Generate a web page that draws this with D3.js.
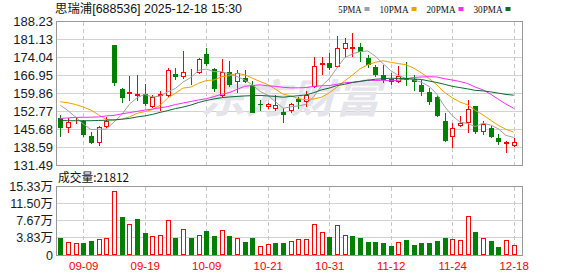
<!DOCTYPE html>
<html lang="zh-CN">
<head>
<meta charset="UTF-8" />
<title>思瑞浦 日K线</title>
<script src="https://d3js.org/d3.v7.min.js"></script>
<style>
  body { margin: 0; background: #fff; }
  svg { display: block; }
</style>
</head>
<body>
<script>
// trading days shown (60 candles)
var dates = ["09-04","09-05","09-08","09-09","09-10","09-11","09-12","09-15","09-16","09-17",
             "09-18","09-19","09-22","09-23","09-24","09-25","09-26","09-29","09-30","10-09",
             "10-10","10-13","10-14","10-15","10-16","10-17","10-20","10-21","10-22","10-23",
             "10-24","10-27","10-28","10-29","10-30","10-31","11-03","11-04","11-05","11-06",
             "11-07","11-10","11-11","11-12","11-13","11-14","11-17","11-18","11-19","11-20",
             "11-21","11-24","12-09","12-10","12-11","12-12","12-15","12-16","12-17","12-18"];

var open = [149.96,146.00,149.16,148.89,142.96,140.31,146.63,178.94,161.54,159.68,
            158.77,159.56,154.54,158.77,158.77,167.47,166.17,167.08,167.99,175.38,
            169.33,158.77,168.38,164.43,165.77,163.12,155.49,154.30,153.75,152.56,
            152.96,157.47,156.52,162.45,171.03,171.70,170.36,177.24,177.24,178.03,
            173.68,170.36,167.08,165.50,164.43,165.77,165.38,163.12,160.47,158.26,
            149.01,142.68,146.91,148.21,154.82,144.66,146.00,142.29,139.79,139.00];
var high = [151.26,149.96,150.47,149.28,144.66,146.91,150.59,178.94,162.05,166.68,
            167.08,163.52,159.17,160.75,169.96,169.72,176.57,169.33,173.68,177.87,
            169.72,173.28,172.73,169.05,169.05,164.70,157.19,156.12,159.17,153.91,
            156.12,158.26,160.87,174.07,174.07,175.90,182.50,181.59,183.56,179.85,
            174.98,171.03,171.03,167.87,170.64,172.33,167.08,165.10,161.82,158.77,
            152.17,148.21,150.87,157.19,154.82,149.01,146.91,143.63,140.90,142.05];
var low = [142.68,144.26,147.58,142.68,139.79,138.99,146.00,162.73,156.12,156.80,
           156.92,154.94,153.91,152.96,158.26,165.10,165.38,163.12,167.47,170.64,
           160.47,158.26,162.45,160.08,163.79,151.93,152.96,153.51,152.96,147.98,
           152.17,153.51,154.30,161.82,167.08,169.05,169.72,173.68,174.07,172.33,
           169.72,166.17,163.79,163.12,163.79,162.73,160.87,158.77,155.22,150.35,
           140.70,138.09,146.40,144.02,143.75,143.35,142.05,139.40,136.35,138.72];
var close = [146.00,148.61,149.60,143.35,140.07,146.40,148.89,163.79,158.10,160.23,
             159.56,155.49,158.50,159.56,169.05,166.17,168.38,167.47,173.28,171.43,
             161.42,168.38,163.12,167.99,164.43,152.17,155.10,155.61,155.22,151.26,
             155.49,156.52,159.17,170.64,171.70,169.72,177.63,179.61,178.27,176.29,
             171.03,167.08,165.10,164.50,166.80,165.10,164.31,160.47,156.52,150.87,
             141.10,146.00,147.98,153.51,144.66,147.70,142.68,140.47,140.58,140.70];
var prevClose = 148.20; // close before the first candle

// volume, in 万 shares
var volume = [3.88,2.85,2.62,2.77,3.14,3.59,3.82,14.37,8.60,6.89,
              8.08,4.94,4.27,4.49,7.79,3.74,5.76,3.88,4.42,5.39,
              4.27,5.54,4.27,3.74,2.92,3.82,2.02,2.47,2.69,2.69,
              3.14,3.59,3.59,6.96,5.09,4.04,6.74,4.49,4.27,3.88,
              2.92,2.92,2.77,2.02,2.85,3.37,2.25,2.69,2.69,3.14,
              3.82,3.59,3.29,8.68,5.16,3.74,3.14,1.80,3.29,2.1812];

var ma5 = [155.2,153.0,150.5,147.7,145.5,145.6,145.7,148.5,151.4,155.5,
           158.1,159.4,158.4,158.7,160.4,161.8,164.3,166.1,168.9,169.4,
           168.4,168.4,167.5,166.5,165.1,163.2,160.6,159.1,156.5,153.9,
           154.5,154.8,155.5,158.6,162.7,165.6,169.8,173.9,175.4,176.3,
           176.6,174.5,171.6,168.8,166.9,165.7,165.2,164.2,162.6,159.5,
           154.7,151.0,148.5,147.9,146.7,148.0,147.3,145.8,143.2,142.4];
var ma10 = [156.5,156.1,155.4,154.4,153.2,151.3,149.5,149.3,149.6,150.5,
            151.9,152.6,153.4,155.1,158.0,159.9,161.9,162.3,163.8,164.9,
            165.1,166.4,166.8,167.7,167.2,165.8,164.5,163.3,161.5,159.5,
            158.9,157.7,157.3,157.6,158.3,160.0,162.3,164.7,167.0,169.5,
            171.1,172.1,172.7,172.1,171.6,171.1,169.8,167.9,165.7,163.2,
            160.2,158.1,156.4,155.3,153.1,151.3,149.2,147.2,145.6,144.5];
var ma20 = [149.9,150.1,150.3,150.35,150.4,150.5,150.9,151.1,151.7,152.2,
            152.7,153.2,153.6,154.1,154.6,155.4,156.0,156.6,157.2,157.7,
            158.5,159.5,160.1,161.4,162.6,162.9,163.2,162.8,162.6,162.2,
            162.0,162.0,162.1,162.6,162.8,162.9,163.4,164.0,164.2,164.5,
            165.0,164.9,165.0,164.8,165.0,165.6,166.1,166.3,166.4,166.3,
            165.6,165.1,164.5,163.7,162.3,161.2,159.5,157.5,155.6,153.9];
var ma30 = [149.1,149.0,149.0,149.0,149.0,149.1,149.2,149.3,149.6,149.9,
            150.5,150.9,151.5,152.3,153.0,153.8,154.4,155.2,156.2,157.0,
            157.6,158.1,158.4,158.6,158.8,158.9,159.0,158.8,158.6,158.3,
            158.6,158.9,159.2,160.1,161.2,161.9,162.9,163.4,164.1,164.6,
            165.0,165.4,165.6,165.8,165.7,165.7,165.5,165.3,164.7,164.1,
            163.4,162.6,162.1,161.6,161.0,160.8,160.4,159.9,159.4,159.1];

var priceTicks = [188.23,181.13,174.04,166.95,159.86,152.77,145.68,138.59,131.49];
var volTicks = [0,3.83,7.67,11.50,15.33];
var dateTicks = ["09-09","09-19","10-09","10-21","10-31","11-12","11-24","12-18"];

var maNames = ["5PMA","10PMA","20PMA","30PMA"];
var maColors = ["#a0a0a0","#f0a000","#ff28ff","#0a6a34"];

var w = 578, h = 276;
var left = 56, right = 522.5;
var red = "#ff0000", green = "#008000";
var numFont = "'Liberation Sans', Arial, sans-serif";
var cjkFont = "'Noto Sans CJK SC', 'Liberation Sans', sans-serif";
var mixFont = "'Liberation Sans', 'Noto Sans CJK SC', sans-serif";

var svg = d3.select("body").append("svg")
    .attr("width", w)
    .attr("height", h);

var x = d3.scalePoint().domain(dates).range([56.36, 517.52]).padding(0.5);
var yP = d3.scaleLinear().domain([131.49, 188.23]).range([165, 21.5]);
var yV = d3.scaleLinear().domain([0, 15.33]).range([255, 186.7]);

// grids
var grid = svg.append("g").attr("shape-rendering", "crispEdges");
grid.selectAll(".hp").data(priceTicks.slice(1, -1)).enter().append("line")
    .attr("x1", left).attr("x2", right)
    .attr("y1", function (d) { return yP(d); }).attr("y2", function (d) { return yP(d); })
    .attr("stroke", "#d2d2d2");
grid.selectAll(".hv").data(volTicks.slice(1, -1)).enter().append("line")
    .attr("x1", left).attr("x2", right)
    .attr("y1", function (d) { return yV(d); }).attr("y2", function (d) { return yV(d); })
    .attr("stroke", "#d2d2d2");
dateTicks.forEach(function (d) {
    var xx = Math.round(x(d)) + 0.5;
    grid.append("line").attr("x1", xx).attr("x2", xx).attr("y1", yP(188.23)).attr("y2", yP(131.49))
        .attr("stroke", "#c8c8c8").attr("stroke-dasharray", "4,3");
    grid.append("line").attr("x1", xx).attr("x2", xx).attr("y1", yV(15.33)).attr("y2", yV(0))
        .attr("stroke", "#c8c8c8").attr("stroke-dasharray", "4,3");
});

// watermark
svg.append("text")
    .attr("x", 200).attr("y", 113)
    .attr("textLength", 180).attr("lengthAdjust", "spacingAndGlyphs")
    .attr("font-family", cjkFont).attr("font-size", "40px").attr("font-weight", "bold")
    .attr("font-style", "italic")
    .attr("fill", "#e4e4ea")
    .text("东方财富");

// frames
svg.append("rect").attr("x", left).attr("y", 21.5).attr("width", right - left).attr("height", 143.5)
    .attr("fill", "none").attr("stroke", "#999").attr("shape-rendering", "crispEdges");
svg.append("rect").attr("x", left).attr("y", 186.7).attr("width", right - left).attr("height", 68.3)
    .attr("fill", "none").attr("stroke", "#999").attr("shape-rendering", "crispEdges");

// candles
var candles = svg.append("g").attr("shape-rendering", "crispEdges");
dates.forEach(function (d, i) {
    var px = Math.round(x(d));
    var up = close[i] >= open[i];
    var col = up ? red : green;
    var top = Math.round(yP(Math.max(open[i], close[i])));
    var bot = Math.round(yP(Math.min(open[i], close[i])));
    candles.append("line")
        .attr("x1", px + 0.5).attr("x2", px + 0.5)
        .attr("y1", yP(high[i])).attr("y2", yP(low[i]))
        .attr("stroke", col);
    if (up) {
        candles.append("rect")
            .attr("x", px - 1.5).attr("y", top + 0.5)
            .attr("width", 4).attr("height", Math.max(0, bot - top - 1))
            .attr("fill", "#fff").attr("stroke", col);
    } else {
        candles.append("rect")
            .attr("x", px - 2).attr("y", top)
            .attr("width", 5).attr("height", Math.max(1, bot - top))
            .attr("fill", col);
    }
});

// volume bars (colour from close vs previous close)
var vols = svg.append("g").attr("shape-rendering", "crispEdges");
dates.forEach(function (d, i) {
    var px = Math.round(x(d));
    var pc = i === 0 ? prevClose : close[i - 1];
    var up = close[i] >= pc;
    var top = Math.round(yV(volume[i]));
    var bot = Math.round(yV(0));
    if (up) {
        vols.append("rect")
            .attr("x", px - 1.5).attr("y", top + 0.5)
            .attr("width", 4).attr("height", Math.max(0, bot - top - 1))
            .attr("fill", "#fff").attr("stroke", red);
    } else {
        vols.append("rect")
            .attr("x", px - 2).attr("y", top)
            .attr("width", 5).attr("height", bot - top)
            .attr("fill", green);
    }
});

// moving averages
var line = d3.line()
    .x(function (d, i) { return x(dates[i]); })
    .y(function (d) { return yP(d); });
[ma5, ma10, ma20, ma30].forEach(function (s, k) {
    svg.append("path").datum(s)
        .attr("d", line)
        .attr("fill", "none")
        .attr("stroke", maColors[k])
        .attr("stroke-width", 1);
});

// axes
var axP = svg.append("g").attr("transform", "translate(53,0)")
    .call(d3.axisLeft(yP).tickValues(priceTicks).tickSize(0).tickPadding(0)
        .tickFormat(d3.format(".2f")));
var axV = svg.append("g").attr("transform", "translate(53,0)")
    .call(d3.axisLeft(yV).tickValues(volTicks).tickSize(0).tickPadding(0)
        .tickFormat(function (d) { return d === 0 ? "0" : d3.format(".2f")(d) + "万"; }));
var axX = svg.append("g").attr("transform", "translate(0,258)")
    .call(d3.axisBottom(x).tickValues(dateTicks).tickSize(0).tickPadding(3.5));
[axP, axV, axX].forEach(function (g) {
    g.select(".domain").remove();
});
axP.selectAll("text").attr("font-family", numFont).attr("font-size", "13px").attr("fill", "#1a1a1a");
axV.selectAll("text").attr("font-family", mixFont).attr("font-size", "12.5px").attr("fill", "#1a1a1a");
axX.selectAll("text").attr("font-family", numFont).attr("font-size", "11.5px").attr("fill", red);

// title
svg.append("text")
    .attr("x", 55).attr("y", 13)
    .attr("textLength", 187).attr("lengthAdjust", "spacingAndGlyphs")
    .attr("font-family", mixFont).attr("font-size", "12px").attr("fill", "#111")
    .text("思瑞浦[688536] 2025-12-18 15:30");

// legend
var lx = 338.3;
maNames.forEach(function (n, k) {
    var tw = n.length * 5.8;
    svg.append("text")
        .attr("x", lx).attr("y", 12.5)
        .attr("textLength", tw).attr("lengthAdjust", "spacingAndGlyphs")
        .attr("font-family", "'Liberation Serif', serif").attr("font-size", "11px").attr("fill", "#111")
        .text(n);
    svg.append("rect")
        .attr("x", lx + tw + 3).attr("y", 7)
        .attr("width", 5).attr("height", 4)
        .attr("fill", maColors[k]);
    lx = lx + tw + 3 + 5 + 10;
});

// volume caption
svg.append("text")
    .attr("x", 58).attr("y", 182)
    .attr("textLength", 71).attr("lengthAdjust", "spacingAndGlyphs")
    .attr("font-family", cjkFont).attr("font-size", "12px").attr("fill", "#111")
    .text("成交量:" + Math.round(volume[volume.length - 1] * 10000));
</script>
</body>
</html>
